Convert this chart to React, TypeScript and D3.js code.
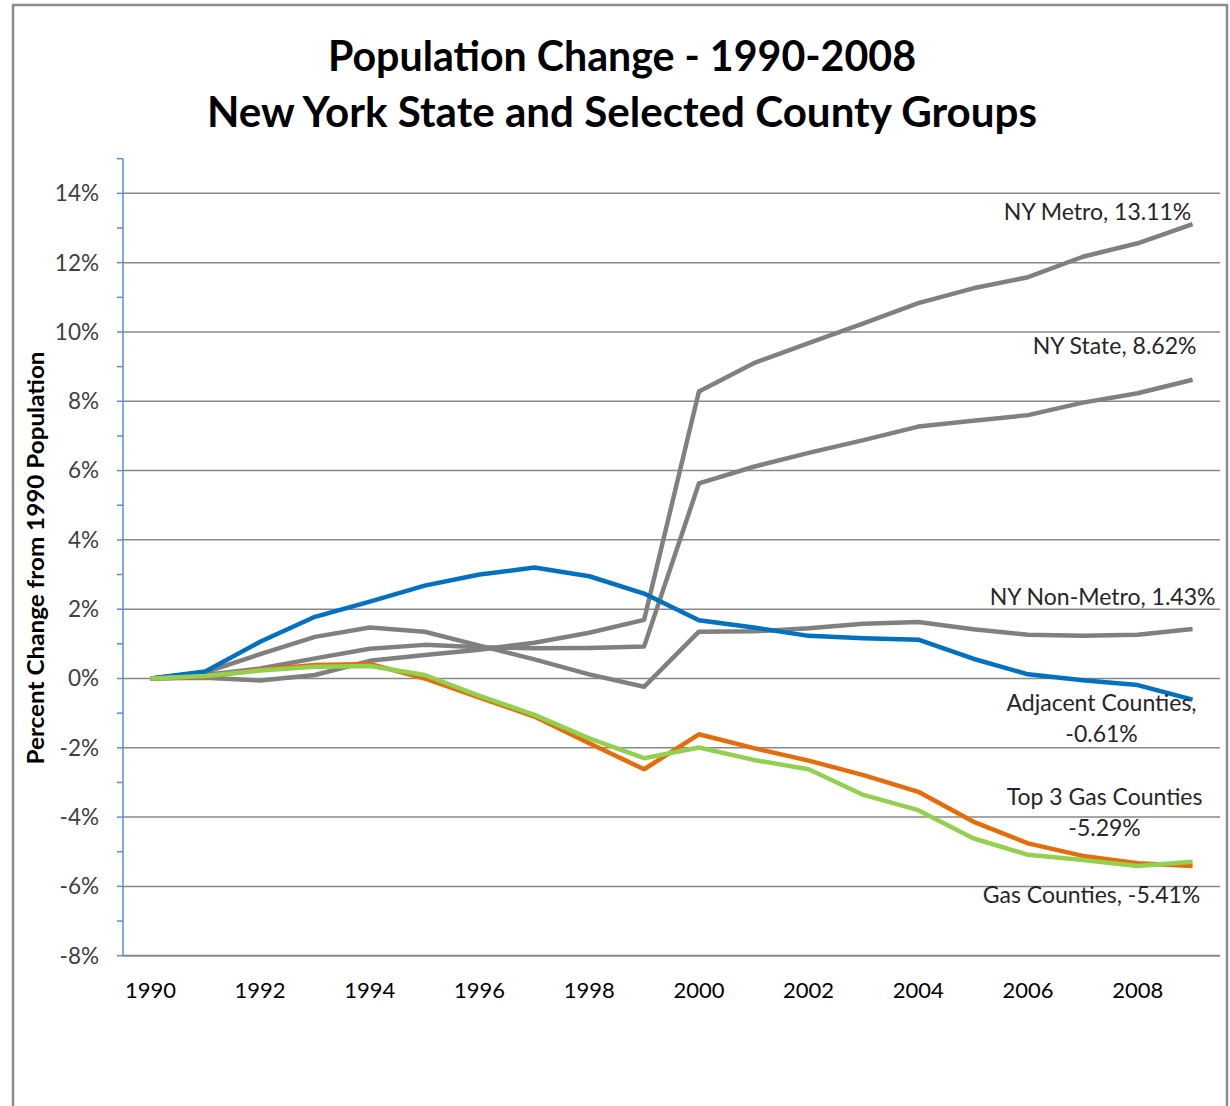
import { useEffect, useRef } from 'react'
import * as d3 from 'd3'

const years = [1990, 1991, 1992, 1993, 1994, 1995, 1996, 1997, 1998, 1999, 2000, 2001, 2002, 2003, 2004, 2005, 2006, 2007, 2008, 2009]
const yearLabels = [1990, 1992, 1994, 1996, 1998, 2000, 2002, 2004, 2006, 2008]
const yGridValues = [-8, -6, -4, -2, 0, 2, 4, 6, 8, 10, 12, 14]

// percent change from 1990
const nyMetro = [0, 0.02, -0.06, 0.1, 0.51, 0.68, 0.83, 1.03, 1.32, 1.69, 8.28, 9.1, 9.68, 10.25, 10.83, 11.26, 11.58, 12.17, 12.56, 13.11]
const nyState = [0, 0.1, 0.29, 0.58, 0.86, 0.97, 0.9, 0.87, 0.88, 0.92, 5.63, 6.11, 6.51, 6.88, 7.27, 7.44, 7.6, 7.96, 8.23, 8.62]
const nyNonMetro = [0, 0.18, 0.7, 1.2, 1.47, 1.35, 0.95, 0.55, 0.12, -0.24, 1.35, 1.36, 1.45, 1.58, 1.63, 1.42, 1.26, 1.23, 1.26, 1.43]
const adjacent = [0, 0.2, 1.06, 1.78, 2.22, 2.68, 3.0, 3.2, 2.95, 2.45, 1.68, 1.47, 1.23, 1.16, 1.12, 0.57, 0.12, -0.05, -0.19, -0.61]
const gasCounties = [0, 0.05, 0.25, 0.39, 0.42, 0.0, -0.55, -1.1, -1.87, -2.62, -1.61, -2.01, -2.37, -2.79, -3.27, -4.13, -4.76, -5.12, -5.33, -5.41]
const top3Gas = [0, 0.07, 0.23, 0.34, 0.36, 0.1, -0.5, -1.05, -1.73, -2.3, -1.99, -2.35, -2.62, -3.36, -3.8, -4.61, -5.09, -5.24, -5.41, -5.29]

const seriesNames = ['NY Metro', 'NY State', 'NY Non-Metro', 'Adjacent Counties', 'Gas Counties', 'Top 3 Gas Counties']
const seriesValues = [nyMetro, nyState, nyNonMetro, adjacent, gasCounties, top3Gas]
const seriesLabels = [
  ['NY Metro, 13.11%'],
  ['NY State, 8.62%'],
  ['NY Non-Metro, 1.43%'],
  ['Adjacent Counties,', '-0.61%'],
  ['Gas Counties, -5.41%'],
  ['Top 3 Gas Counties', '-5.29%'],
]

const colors = ['#808080', '#808080', '#808080', '#0070C0', '#E46C0A', '#92D050']
// label centre offset from the last point of each line
const labelOffsets = [[-95, -12], [-78, -34], [-90, -32], [-91, 3], [-101, 29], [-88, -65]]

export default function App() {
  const ref = useRef<SVGSVGElement>(null)

  useEffect(() => {
    const svg = d3.select(ref.current)
    svg.selectAll('*').remove()

    const width = 1230
    const height = 1106
    const left = 123
    const right = 1220
    const top = 158.7
    const bottom = 955.7
    const font = 'Lato, Carlito, Calibri, sans-serif'

    svg.append('rect').attr('width', width).attr('height', height).attr('fill', '#fff')

    // outer frame
    svg.append('rect')
      .attr('x', 13).attr('y', 5)
      .attr('width', 1214).attr('height', 1130)
      .attr('fill', 'none').attr('stroke', '#8c8c8c').attr('stroke-width', 2.5)

    const x = d3.scalePoint<number>()
      .domain(years)
      .range([left, right])
      .padding(0.5)

    const y = d3.scaleLinear()
      .domain([-8, 15])
      .range([bottom, top])

    // title
    const title = svg.append('g')
      .attr('font-family', font)
      .attr('font-weight', 'bold')
      .attr('font-size', 42)
      .attr('text-anchor', 'middle')
      .attr('fill', '#000')
    title.append('text').attr('x', 622).attr('y', 71).attr('textLength', 588).attr('lengthAdjust', 'spacingAndGlyphs').text('Population Change - 1990-2008')
    title.append('text').attr('x', 622).attr('y', 127).attr('textLength', 830).attr('lengthAdjust', 'spacingAndGlyphs').text('New York State and Selected County Groups')

    // gridlines
    svg.append('g')
      .selectAll('line')
      .data(yGridValues)
      .join('line')
      .attr('x1', left).attr('x2', right)
      .attr('y1', d => y(d)).attr('y2', d => y(d))
      .attr('stroke', '#888').attr('stroke-width', d => d === -8 ? 2 : 1.5)

    // y axis with 1% ticks
    svg.append('line')
      .attr('x1', left).attr('x2', left)
      .attr('y1', top).attr('y2', bottom)
      .attr('stroke', '#5b8fd0').attr('stroke-width', 1.5)

    svg.append('g')
      .selectAll('line')
      .data(d3.range(-8, 16))
      .join('line')
      .attr('x1', left - 6).attr('x2', left)
      .attr('y1', d => y(d)).attr('y2', d => y(d))
      .attr('stroke', '#5b8fd0').attr('stroke-width', 1.5)

    svg.append('g')
      .selectAll('text')
      .data(yGridValues)
      .join('text')
      .attr('x', 99)
      .attr('y', d => y(d))
      .attr('dy', '0.35em')
      .attr('text-anchor', 'end')
      .attr('font-family', font)
      .attr('font-size', 22.5)
      .attr('fill', '#404040')
      .text(d => `${d}%`)

    // x labels
    svg.append('g')
      .selectAll('text')
      .data(yearLabels)
      .join('text')
      .attr('x', d => x(d)!)
      .attr('y', 998)
      .attr('text-anchor', 'middle')
      .attr('font-family', font)
      .attr('font-size', 22)
      .attr('fill', '#000')
      .text(d => d)

    // y title
    svg.append('text')
      .attr('transform', `translate(44,558) rotate(-90)`)
      .attr('text-anchor', 'middle')
      .attr('font-family', font)
      .attr('font-weight', 'bold')
      .attr('font-size', 23)
      .attr('fill', '#000')
      .attr('textLength', 413)
      .attr('lengthAdjust', 'spacingAndGlyphs')
      .text('Percent Change from 1990 Population')

    const line = d3.line<number>()
      .x((_, i) => x(years[i])!)
      .y(d => y(d))

    seriesValues.forEach((values, i) => {
      svg.append('path')
        .datum(values)
        .attr('fill', 'none')
        .attr('stroke', colors[i])
        .attr('stroke-width', 4.5)
        .attr('stroke-linejoin', 'round')
        .attr('d', line)
        .append('title').text(seriesNames[i])
    })

    // end labels
    seriesValues.forEach((values, i) => {
      const last = values.length - 1
      const cx = x(years[last])! + labelOffsets[i][0]
      const cy = y(values[last]) + labelOffsets[i][1]
      const t = svg.append('text')
        .attr('text-anchor', 'middle')
        .attr('font-family', font)
        .attr('font-size', 23)
        .attr('fill', '#262626')
      seriesLabels[i].forEach((s, j) => {
        t.append('tspan')
          .attr('x', cx)
          .attr('y', cy + j * 31)
          .attr('dy', '0.35em')
          .text(s)
      })
    })
  }, [])

  return (
    <svg
      ref={ref}
      width={1230}
      height={1106}
      style={{ position: 'absolute', left: 0, top: 0 }}
    />
  )
}
